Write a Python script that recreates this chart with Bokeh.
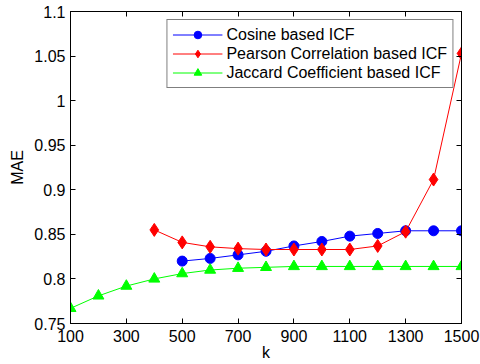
from bokeh.plotting import figure
from bokeh.models import Range1d, FixedTicker, LinearAxis, CustomJSTickFormatter, Legend
from bokeh.embed import file_html
from bokeh.resources import INLINE

k_cos = [500, 600, 700, 800, 900, 1000, 1100, 1200, 1300, 1400, 1500]
mae_cos = [0.820, 0.823, 0.827, 0.831, 0.837, 0.842, 0.848, 0.851, 0.854, 0.854, 0.854]

k_pear = [400, 500, 600, 700, 800, 900, 1000, 1100, 1200, 1300, 1400, 1500]
mae_pear = [0.855, 0.841, 0.836, 0.834, 0.833, 0.833, 0.833, 0.833, 0.837, 0.853, 0.9115, 1.053]

k_jac = [100, 200, 300, 400, 500, 600, 700, 800, 900, 1000, 1100, 1200, 1300, 1400, 1500]
mae_jac = [0.767, 0.781, 0.792, 0.800, 0.806, 0.810, 0.812, 0.813, 0.814, 0.814, 0.814, 0.814, 0.814, 0.814, 0.814]

x_ticks = [100, 300, 500, 700, 900, 1100, 1300, 1500]
y_ticks = [0.75, 0.8, 0.85, 0.9, 0.95, 1.0, 1.05, 1.1]

labels = ["Cosine based ICF", "Pearson Correlation based ICF", "Jaccard Coefficient based ICF"]
x_title = "k"
y_title = "MAE"

FONT = "Liberation Sans"
FS = "16px"

p = figure(width=480, height=364, output_backend="svg", toolbar_location=None,
           x_range=Range1d(100, 1500), y_range=Range1d(0.75, 1.1),
           min_border_left=70, min_border_right=19, min_border_top=11, min_border_bottom=41)
p.xgrid.visible = False
p.ygrid.visible = False
p.outline_line_color = "black"
p.outline_line_width = 1
p.background_fill_color = "white"
p.border_fill_color = "white"

yfmt = CustomJSTickFormatter(code="return (Math.round(tick*100)/100).toString();")
blank = CustomJSTickFormatter(code="return '';")

def style(ax, show_labels=True):
    ax.axis_line_color = "black"
    ax.major_tick_in = 5
    ax.major_tick_out = 0
    ax.minor_tick_line_color = None
    ax.major_label_text_font = FONT
    ax.major_label_text_color = "black"
    ax.axis_label_text_font = FONT
    ax.axis_label_text_font_style = "normal"
    ax.axis_label_text_color = "black"
    ax.major_label_text_font_size = FS
    ax.axis_label_text_font_size = FS
    if not show_labels:
        ax.formatter = blank
        ax.major_label_standoff = 0
        ax.axis_label_standoff = 0

xa = p.xaxis[0]
xa.ticker = FixedTicker(ticks=x_ticks)
xa.axis_label = x_title
style(xa)
xa.major_label_standoff = 6
xa.axis_label_standoff = -1

ya = p.yaxis[0]
ya.ticker = FixedTicker(ticks=y_ticks)
ya.formatter = yfmt
ya.axis_label = y_title
style(ya)
ya.major_label_standoff = 5
ya.axis_label_standoff = 5

top = LinearAxis(ticker=FixedTicker(ticks=x_ticks))
style(top, False)
p.add_layout(top, "above")
right = LinearAxis(ticker=FixedTicker(ticks=y_ticks))
style(right, False)
p.add_layout(right, "right")

series = [
    (k_cos, mae_cos, "#0000ff", "circle", 10),
    (k_pear, mae_pear, "#ff0000", "diamond", 13),
    (k_jac, mae_jac, "#00ff00", "triangle", 11),
]
items = []
for (xs, ys, c, m, s), lab in zip(series, labels):
    r1 = p.line(xs, ys, line_color=c, line_width=1)
    r2 = p.scatter(xs, ys, marker=m, size=s, fill_color=c, line_color=c)
    items.append((lab, [r1, r2]))

leg = Legend(items=items, location="top_right")
leg.margin = 8
leg.padding = 5
leg.spacing = 0
leg.glyph_width = 50
leg.glyph_height = 19
leg.label_height = 19
leg.label_standoff = 4
leg.label_text_font = FONT
leg.label_text_font_size = FS
leg.label_text_color = "black"
leg.border_line_color = "black"
leg.border_line_width = 1
leg.background_fill_alpha = 1
p.add_layout(leg, "center")

open("out.html", "w").write(file_html(p, INLINE))
